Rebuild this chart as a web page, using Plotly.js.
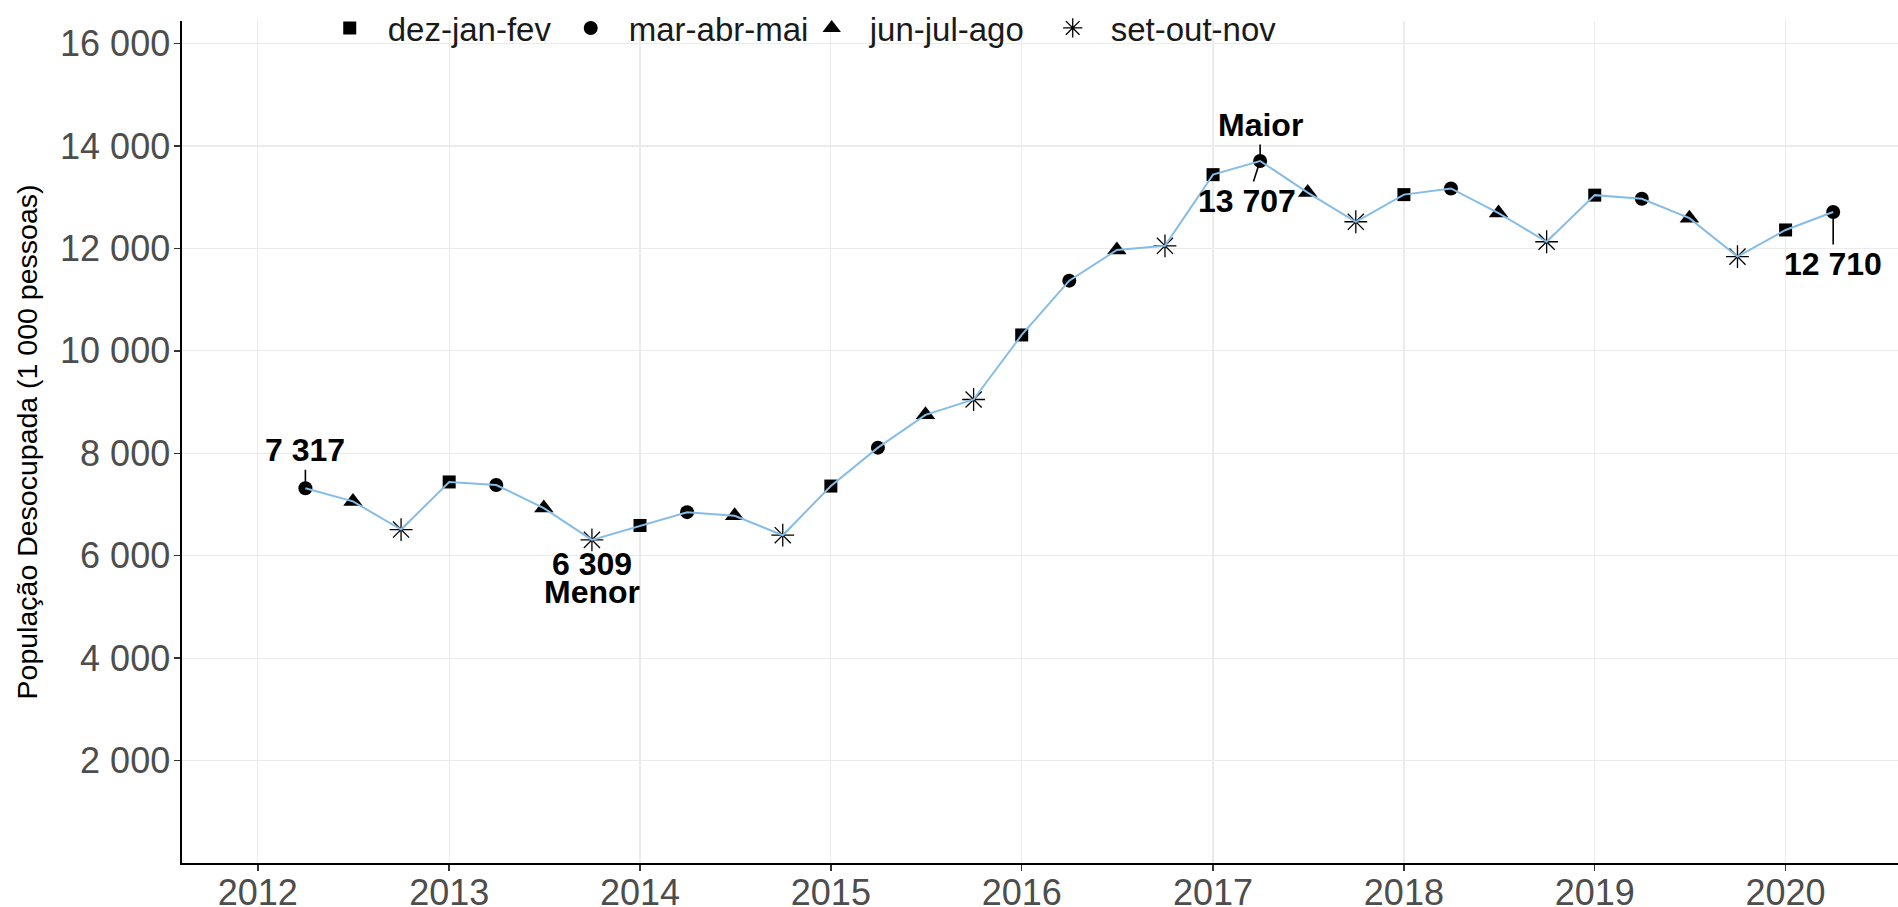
<!DOCTYPE html>
<html>
<head>
<meta charset="utf-8">
<script src="https://cdn.plot.ly/plotly-3.0.1.min.js"></script>
<style>html,body{margin:0;padding:0;background:#fff;}#chart{width:1898px;height:907px;}</style>
</head>
<body>
<div id="chart"></div>
<script>
// Trimestres móveis (mês central) e população desocupada (1 000 pessoas)
const periodos = [
  '2012-04-01','2012-07-01','2012-10-01',
  '2013-01-01','2013-04-01','2013-07-01','2013-10-01',
  '2014-01-01','2014-04-01','2014-07-01','2014-10-01',
  '2015-01-01','2015-04-01','2015-07-01','2015-10-01',
  '2016-01-01','2016-04-01','2016-07-01','2016-10-01',
  '2017-01-01','2017-04-01','2017-07-01','2017-10-01',
  '2018-01-01','2018-04-01','2018-07-01','2018-10-01',
  '2019-01-01','2019-04-01','2019-07-01','2019-10-01',
  '2020-01-01','2020-04-01'
];
const trimestres = [
  'mar-abr-mai','jun-jul-ago','set-out-nov',
  'dez-jan-fev','mar-abr-mai','jun-jul-ago','set-out-nov',
  'dez-jan-fev','mar-abr-mai','jun-jul-ago','set-out-nov',
  'dez-jan-fev','mar-abr-mai','jun-jul-ago','set-out-nov',
  'dez-jan-fev','mar-abr-mai','jun-jul-ago','set-out-nov',
  'dez-jan-fev','mar-abr-mai','jun-jul-ago','set-out-nov',
  'dez-jan-fev','mar-abr-mai','jun-jul-ago','set-out-nov',
  'dez-jan-fev','mar-abr-mai','jun-jul-ago','set-out-nov',
  'dez-jan-fev','mar-abr-mai'
];
const desocupados = [
  7317, 7060, 6510,
  7440, 7380, 6930, 6309,
  6590, 6850, 6780, 6400,
  7360, 8110, 8750, 9050,
  10310, 11370, 11970, 12050,
  13440, 13707, 13090, 12520,
  13050, 13170, 12690, 12130,
  13040, 12970, 12590, 11840,
  12360, 12710
];
const legendaTrimestres = ['dez-jan-fev','mar-abr-mai','jun-jul-ago','set-out-nov'];
const simbolos = ['square','circle','triangle-up','asterisk-open'];
const yTicks = [2000, 4000, 6000, 8000, 10000, 12000, 14000, 16000];

function fmt(v){ return String(v).replace(/\B(?=(\d{3})+(?!\d))/g, ' '); }

const tamanhos = {'square': 13, 'circle': 14, 'triangle-up': 17, 'asterisk-open': 19};
const traces = [];
legendaTrimestres.forEach((t, k) => {
  const xs = [], ys = [];
  trimestres.forEach((tt, i) => { if (tt === t) { xs.push(periodos[i]); ys.push(desocupados[i]); } });
  const isAst = simbolos[k] === 'asterisk-open';
  traces.push({
    type: 'scatter', mode: 'markers', name: t, x: xs, y: ys,
    marker: {
      symbol: simbolos[k],
      size: tamanhos[simbolos[k]],
      color: '#000000',
      line: isAst ? {color: '#505866', width: 1.3} : {width: 0}
    },
    hoverinfo: 'x+y'
  });
});
traces.push({
  type: 'scatter', mode: 'lines', x: periodos, y: desocupados,
  line: {color: '#86bde7', width: 2}, showlegend: false, hoverinfo: 'skip'
});

const n = desocupados.length;
let iMax = 0, iMin = 0;
desocupados.forEach((v, i) => { if (v > desocupados[iMax]) iMax = i; if (v < desocupados[iMin]) iMin = i; });

const annFont = {family: 'Liberation Sans, Arial, sans-serif', size: 32, color: '#000000'};
const arrowBase = {showarrow: true, arrowhead: 0, arrowwidth: 1.6, arrowcolor: '#000000', standoff: 0, xref: 'x', yref: 'y', font: annFont};
const annotations = [
  Object.assign({}, arrowBase, {x: periodos[0], y: desocupados[0], text: '<b>' + fmt(desocupados[0]) + '</b>', ax: 0, ay: -38, standoff: 6}),
  Object.assign({}, arrowBase, {x: periodos[n-1], y: desocupados[n-1], text: '<b>' + fmt(desocupados[n-1]) + '</b>', ax: 0, ay: 52, standoff: 4}),
  Object.assign({}, arrowBase, {x: periodos[iMax], y: desocupados[iMax], text: '<b>Maior</b>', ax: 0, ay: -36, standoff: 4}),
  Object.assign({}, arrowBase, {x: periodos[iMax], y: desocupados[iMax], text: '<b>' + fmt(desocupados[iMax]) + '</b>', ax: -13, ay: 40, standoff: 2}),
  {x: periodos[iMin], y: desocupados[iMin], xref: 'x', yref: 'y', text: '<b>' + fmt(desocupados[iMin]) + '</b>', showarrow: false, yshift: -24, font: annFont},
  {x: periodos[iMin], y: desocupados[iMin], xref: 'x', yref: 'y', text: '<b>Menor</b>', showarrow: false, yshift: -52, font: annFont}
];

const tickFont = {family: 'Liberation Sans, Arial, sans-serif', size: 36, color: '#4d4d4d'};
const layout = {
  width: 1898, height: 907,
  margin: {l: 182, r: 0, t: 20, b: 44, pad: 0},
  paper_bgcolor: '#ffffff', plot_bgcolor: '#ffffff',
  separators: ', ',
  font: {family: 'Liberation Sans, Arial, sans-serif', color: '#000000'},
  showlegend: true,
  legend: {
    orientation: 'h', x: 0.0756, xanchor: 'left', y: 0.992, yanchor: 'middle',
    font: {family: 'Liberation Sans, Arial, sans-serif', size: 33, color: '#1a1a1a'},
    itemwidth: 66, entrywidth: 160, entrywidthmode: 'pixels',
    bgcolor: 'rgba(255,255,255,0)', itemclick: false
  },
  xaxis: {
    type: 'date', range: ['2011-08-09', '2020-08-03'],
    tickmode: 'linear', tick0: '2012-01-01', dtick: 'M12', tickformat: '%Y',
    showgrid: true, gridcolor: '#ebebeb', gridwidth: 1.2,
    showline: true, linecolor: '#000000', linewidth: 1.6,
    ticks: 'outside', ticklen: 6, tickwidth: 1.4, tickcolor: '#333333',
    ticklabelstandoff: -9,
    tickfont: tickFont, zeroline: false, automargin: false
  },
  yaxis: {
    range: [0, 16440], tickmode: 'array', tickvals: yTicks, tickformat: ',d',
    showgrid: true, gridcolor: '#ebebeb', gridwidth: 1.2,
    showline: true, linecolor: '#000000', linewidth: 1.6,
    ticks: 'outside', ticklen: 6, tickwidth: 1.4, tickcolor: '#333333',
    ticklabelstandoff: -3,
    tickfont: tickFont, zeroline: false, automargin: false,
    title: {text: 'População Desocupada (1 000 pessoas)', standoff: 14,
            font: {family: 'Liberation Sans, Arial, sans-serif', size: 28.5, color: '#000000'}}
  },
  annotations: annotations
};

Plotly.newPlot('chart', traces, layout, {displayModeBar: false, staticPlot: true});
</script>
</body>
</html>
